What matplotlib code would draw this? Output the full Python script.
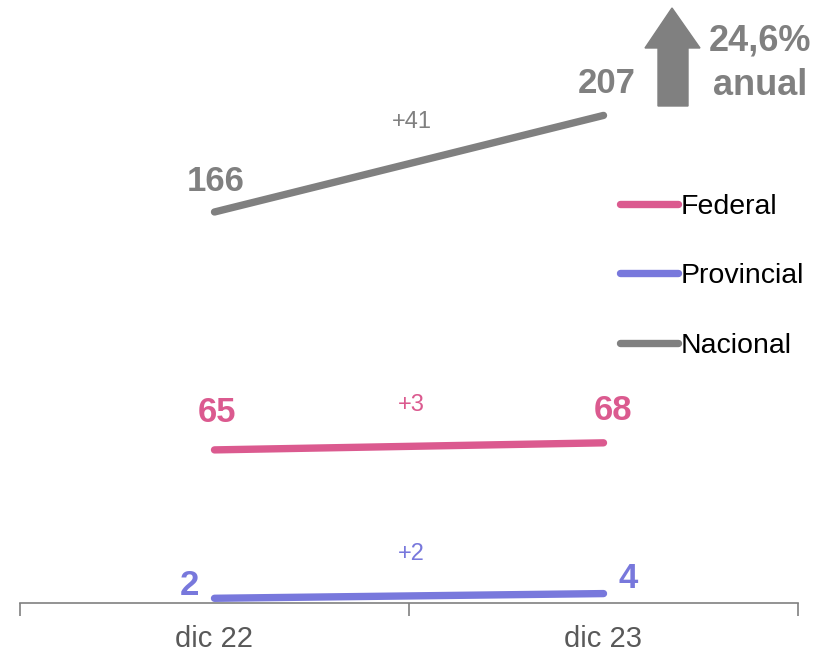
import matplotlib.pyplot as plt
from matplotlib.patches import Polygon

plt.rcParams['font.family'] = ['Liberation Sans', 'DejaVu Sans']

periods = ['dic 22', 'dic 23']
series_names = ['Federal', 'Provincial', 'Nacional']
federal = [65, 68]
provincial = [2, 4]
nacional = [166, 207]
growth_label = '24,6%\nanual'

colors = {'Federal': '#DB5A8F', 'Provincial': '#7878DC', 'Nacional': '#808080'}
values = {'Federal': federal, 'Provincial': provincial, 'Nacional': nacional}

# (x offset, y offset) in points for the start / end value labels
label_offsets = {
    'Federal': [(2, 27), (7, 23)],
    'Provincial': [(-18, 9), (18, 11)],
    'Nacional': [(1, 22), (2, 23)],
}

W, H = 828, 654
fig = plt.figure(figsize=(W / 100, H / 100), dpi=100)
ax = fig.add_axes([20 / W, 51 / H, 778 / W, 603 / H])

x = list(range(len(periods)))
for name in series_names:
    y = values[name]
    ax.plot(x, y, color=colors[name], lw=5.3, solid_capstyle='round', label=name)
    for i in range(len(x)):
        dx, dy = label_offsets[name][i]
        ax.annotate(str(y[i]), (x[i], y[i]), xytext=(dx, dy), textcoords='offset points',
                    ha='center', va='center', fontsize=25, fontweight='bold', color=colors[name])
    diff = y[-1] - y[0]
    ax.annotate(f'+{diff}', ((x[0] + x[-1]) / 2, (y[0] + y[-1]) / 2), xytext=(2, 30),
                textcoords='offset points', ha='center', va='center', fontsize=17,
                color=colors[name])

ax.set_xlim(-0.5, 1.5)
ax.set_ylim(0, 256)
ax.set_xticks(x)
ax.set_xticklabels(periods, fontsize=21, color='#595959')
ax.set_xticks([-0.5, 0.5, 1.5], minor=True)
ax.tick_params(axis='x', which='major', length=0, pad=16)
ax.tick_params(axis='x', which='minor', length=9, width=1.2, color='#808080', direction='out')
ax.set_yticks([])
for s in ['top', 'left', 'right']:
    ax.spines[s].set_visible(False)
ax.spines['bottom'].set_color('#808080')
ax.spines['bottom'].set_linewidth(1.2)

leg = ax.legend(loc='upper left', bbox_to_anchor=(620 / W, 1 - 194 / H),
                bbox_transform=fig.transFigure, frameon=False, fontsize=20.5,
                labelspacing=1.52, handlelength=2.05, handletextpad=0.08, borderpad=0,
                borderaxespad=0)

# growth arrow
pts = [(658, 106), (688, 106), (688, 48), (700, 48), (672, 8), (645, 48), (658, 48)]
pts = [(px / 100, (H - py) / 100) for px, py in pts]
fig.add_artist(Polygon(pts, closed=True, color='#808080', transform=fig.dpi_scale_trans))
fig.text(760 / W, 1 - 63 / H, growth_label, ha='center', va='center', fontsize=26,
         fontweight='bold', color='#808080', linespacing=1.36)

fig.savefig('out.png', dpi=100)
